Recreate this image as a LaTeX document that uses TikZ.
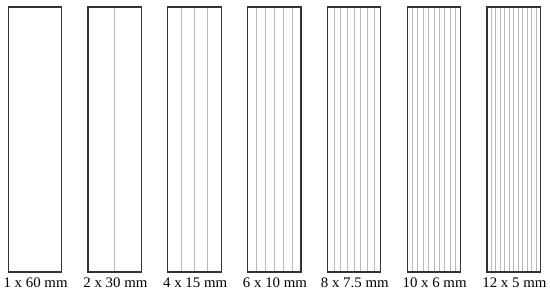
\documentclass[tikz,border=0pt]{standalone}
\usepackage{fontspec}
\setmainfont{Liberation Serif}
\usetikzlibrary{positioning,calc}

\begin{document}
\begin{tikzpicture}[
        x=0.02cm, y=-0.02cm,
        panel/.style={draw=black!80, line width=0.72pt, minimum width=1.07cm, minimum height=5.3cm, inner sep=0pt, outer sep=0pt},
        divider/.style={draw=gray!55, line width=0.45pt, shorten >=0.4pt, shorten <=0.4pt},
        size/.style={font=\fontsize{8.3}{10}\selectfont, xscale=1.02, anchor=base}
    ]
    \useasboundingbox (0,0) rectangle (550,294);

    % Sample strips and their sizes
    \foreach \n/\lbl [count=\i from 0] in {1/1 x 60 mm, 2/2 x 30 mm, 4/4 x 15 mm, 6/6 x 10 mm, 8/8 x 7.5 mm, 10/10 x 6 mm, 12/12 x 5 mm} {
        \node[panel] (p\n) at ({34.9+79.8*\i},139.5) {};
        \node[size] (l\n) at ({35.6+79.8*\i},287.5) {\lbl};

        % Cuts inside the strip
        \ifnum\n>1
            \pgfmathtruncatemacro\last{\n-1}
            \foreach \k in {1,...,\last} {
                \pgfmathsetmacro\fr{\k/\n}
                \draw[divider] ($(p\n.north west)!\fr!(p\n.north east)$) -- ($(p\n.south west)!\fr!(p\n.south east)$);
            }
        \fi
    }

\end{tikzpicture}
\end{document}
